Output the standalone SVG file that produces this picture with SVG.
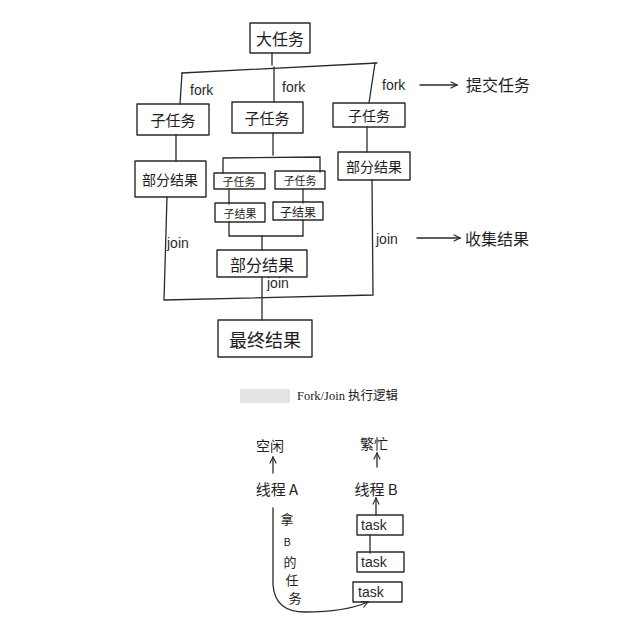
<svg xmlns="http://www.w3.org/2000/svg" width="619" height="624" viewBox="0 0 619 624">
<style>
.b{fill:none;stroke:#2a2a2a;stroke-width:1.4;stroke-linecap:round;stroke-linejoin:round}
.c{fill:none;stroke:#2a2a2a;stroke-width:1.3;stroke-linecap:round}
.t{font-family:"Noto Sans CJK SC","Noto Sans",sans-serif;fill:#1e1e1e;text-anchor:middle;dominant-baseline:central}
.l{font-family:"Liberation Sans","DejaVu Sans",sans-serif;fill:#2a2a2a;font-size:14px}
.cap{font-family:"Liberation Serif","Noto Sans CJK SC",serif;font-size:12.5px;fill:#222}
</style>
<defs>
<marker id="ah" viewBox="0 0 10 10" refX="9" refY="5" markerWidth="8" markerHeight="8" orient="auto-start-reverse" markerUnits="userSpaceOnUse">
<path d="M1,1 L9,5 L1,9" fill="none" stroke="#2a2a2a" stroke-width="1.4"/>
</marker>
</defs>
<rect width="619" height="624" fill="#ffffff"/>

<g id="connectors">
<path class="c" d="M272,53 L272,65"/>
<path class="c" d="M182,73 L377,63"/>
<path class="c" d="M182,73 L180,104"/>
<path class="c" d="M274,67 L274,102"/>
<path class="c" d="M375,63 L369,103"/>
<path class="c" d="M420,85 L457,85" marker-end="url(#ah)"/>
<path class="c" d="M176,135 L176,161"/>
<path class="c" d="M273,133 L273,155"/>
<path class="c" d="M223,173 L223,158 L320,157 L320,172"/>
<path class="c" d="M229,189 L229,204"/>
<path class="c" d="M303,189 L303,203"/>
<path class="c" d="M229,222 L229,236 L303,236 L303,220"/>
<path class="c" d="M262,236 L262,250"/>
<path class="c" d="M367,127 L367,152"/>
<path class="c" d="M167,197 L164,300 L373,295 L372,180"/>
<path class="c" d="M417,238 L460,238" marker-end="url(#ah)"/>
<path class="c" d="M262,277 L262,320"/>
<path class="c" d="M273,473 L273,457" marker-end="url(#ah)"/>
<path class="c" d="M377,467 L377,453" marker-end="url(#ah)"/>
<path class="c" d="M376,515 L376,498" marker-end="url(#ah)"/>
<path class="c" d="M370,535 L370,553"/>
<path class="c" d="M273,508 L273,585 Q275,612 305,612 Q345,612 368,602" marker-end="url(#ah)"/>
</g>

<g id="labels">
<text class="l" x="190" y="95">fork</text>
<text class="l" x="282" y="92">fork</text>
<text class="l" x="382" y="90">fork</text>
<text class="t" x="498" y="84" font-size="16">提交任务</text>
<text class="l" x="167" y="248">join</text>
<text class="l" x="267" y="288">join</text>
<text class="l" x="376" y="244">join</text>
<text class="t" x="497" y="238" font-size="16">收集结果</text>
</g>

<g id="n-big"><rect class="b" x="250" y="23" width="60" height="30"/><text class="t" x="280" y="38" font-size="16">大任务</text></g>
<g id="n-sub1"><rect class="b" x="137" y="104" width="72" height="31"/><text class="t" x="173" y="119" font-size="15">子任务</text></g>
<g id="n-sub2"><rect class="b" x="232" y="102" width="71" height="31"/><text class="t" x="267" y="117" font-size="15">子任务</text></g>
<g id="n-sub3"><rect class="b" x="333" y="103" width="72" height="24"/><text class="t" x="369" y="115" font-size="14">子任务</text></g>
<g id="n-part1"><rect class="b" x="135" y="161" width="71" height="36"/><text class="t" x="170" y="179" font-size="14">部分结果</text></g>
<g id="n-part3"><rect class="b" x="338" y="152" width="72" height="28"/><text class="t" x="374" y="166" font-size="14">部分结果</text></g>
<g id="n-ss1"><rect class="b" x="214" y="173" width="51" height="16"/><text class="t" x="239" y="181" font-size="11">子任务</text></g>
<g id="n-ss2"><rect class="b" x="275" y="171" width="50" height="18"/><text class="t" x="300" y="180" font-size="11">子任务</text></g>
<g id="n-sr1"><rect class="b" x="215" y="203" width="50" height="19"/><text class="t" x="240" y="212.5" font-size="11">子结果</text></g>
<g id="n-sr2"><rect class="b" x="273" y="202" width="50" height="18"/><text class="t" x="298" y="211" font-size="12">子结果</text></g>
<g id="n-part2"><rect class="b" x="217" y="250" width="90" height="27"/><text class="t" x="262" y="263.5" font-size="16">部分结果</text></g>
<g id="n-final"><rect class="b" x="218" y="320" width="94" height="37"/><text class="t" x="265" y="338.5" font-size="18">最终结果</text></g>

<g id="caption">
<rect x="240" y="389" width="50" height="14" fill="#e4e4e4"/>
<text class="cap" x="297" y="400">Fork/Join 执行逻辑</text>
</g>

<g id="n-idle"><text class="t" x="270" y="445" font-size="14">空闲</text></g>
<g id="n-threadA"><text class="t" x="277" y="488" font-size="15">线程 A</text></g>
<g id="n-busy"><text class="t" x="374" y="443" font-size="14">繁忙</text></g>
<g id="n-threadB"><text class="t" x="376" y="488" font-size="15">线程 B</text></g>
<g id="n-task1"><rect class="b" x="357" y="515" width="46" height="20"/><text class="l" x="361" y="530" font-size="12">task</text></g>
<g id="n-task2"><rect class="b" x="357" y="552" width="47" height="20"/><text class="l" x="361" y="567" font-size="12">task</text></g>
<g id="n-task3"><rect class="b" x="353" y="582" width="49" height="20"/><text class="l" x="358" y="597" font-size="12">task</text></g>
<g id="steal-label">
<text class="t" x="287" y="518" font-size="13">拿</text>
<text class="t" x="287" y="541" font-size="11">B</text>
<text class="t" x="290" y="561" font-size="13">的</text>
<text class="t" x="292" y="579" font-size="13">任</text>
<text class="t" x="295" y="597" font-size="13">务</text>
</g>
</svg>
